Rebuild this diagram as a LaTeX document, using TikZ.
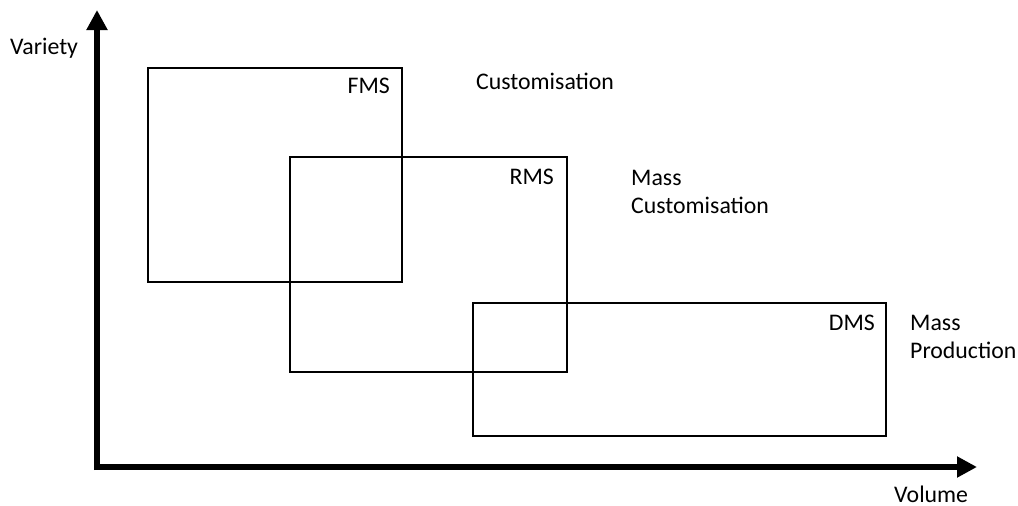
\documentclass[tikz,border=0pt]{standalone}
\usepackage{fontspec}
\setmainfont{Carlito}
\usetikzlibrary{arrows.meta}
\begin{document}
\begin{tikzpicture}[x=1pt,y=-1pt,
  axis/.style={line width=6pt,-{Triangle[width=20pt,length=20pt]}},
  region/.style={draw=black,line width=1.5pt},
  lbl/.style={inner sep=0pt,font=\fontsize{23.8}{29}\selectfont},
]
\useasboundingbox (0,0) rectangle (1018,506);
\coordinate (o) at (97,467);
\coordinate (ytop) at (97,10);
\coordinate (xend) at (977,467);
\draw[axis] ([yshift=-3pt]o) -- (ytop);
\draw[axis] ([xshift=-3pt]o) -- (xend);
\node[region,minimum width=254pt,minimum height=214pt,anchor=north west] (fms) at (147,67) {};
\node[region,minimum width=277pt,minimum height=215pt,anchor=north west] (rms) at (289,156) {};
\node[region,minimum width=413pt,minimum height=133pt,anchor=north west] (dms) at (472,302) {};
\node[lbl,anchor=base east] (fmsl) at (390,93) {FMS};
\node[lbl,anchor=base east] (rmsl) at (554,184) {RMS};
\node[lbl,anchor=base east] (dmsl) at (875,330) {DMS};
\node[lbl,anchor=base west] (cust) at (476,89.5) {Customisation};
\node[lbl,anchor=base west] (mc1) at (631,185) {Mass};
\node[lbl,anchor=base west] (mc2) at (631,213.5) {Customisation};
\node[lbl,anchor=base west] (mp1) at (910,330) {Mass};
\node[lbl,anchor=base west] (mp2) at (910,358.5) {Production};
\node[lbl,anchor=base west] (var) at (10,54.5) {Variety};
\node[lbl,anchor=base west] (vol) at (894,502) {Volume};
\end{tikzpicture}
\end{document}
